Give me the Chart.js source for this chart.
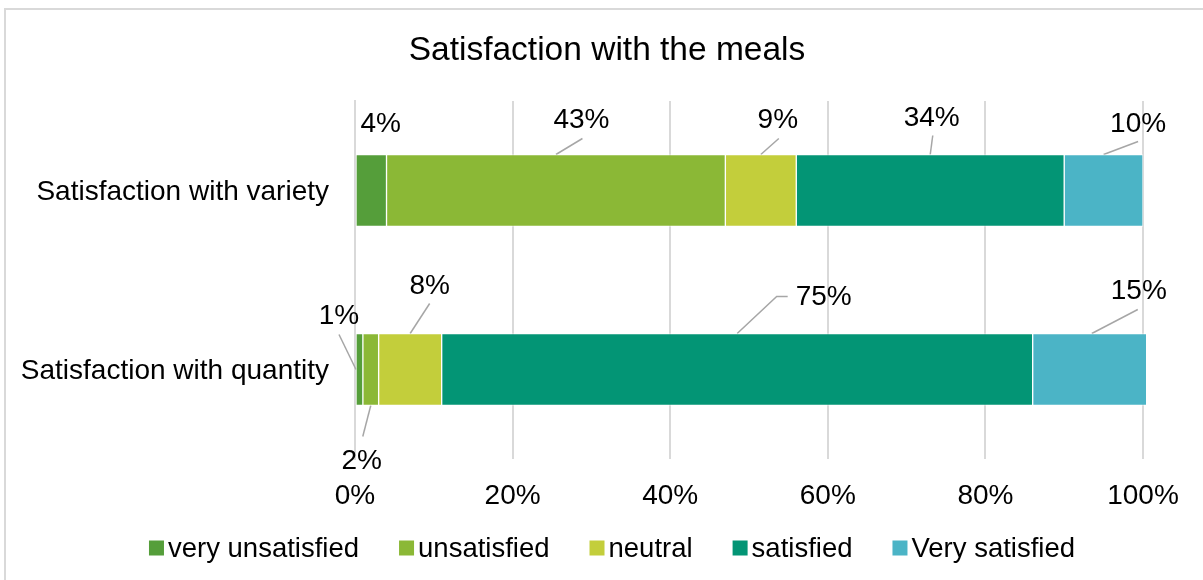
<!DOCTYPE html>
<html>
<head>
<meta charset="utf-8">
<title>Satisfaction with the meals</title>
<script src="https://cdn.jsdelivr.net/npm/chart.js@4.4.1/dist/chart.umd.min.js"></script>
<style>
  html, body { margin: 0; padding: 0; background: #fff; }
  #wrap { width: 1203px; height: 580px; position: relative; }
</style>
</head>
<body>
<div id="wrap"><canvas id="meals" width="1203" height="580"></canvas></div>
<script>
// survey answers, percent of respondents
var categories = ['Satisfaction with variety', 'Satisfaction with quantity'];
var seriesNames = ['very unsatisfied', 'unsatisfied', 'neutral', 'satisfied', 'Very satisfied'];
var veryUnsatisfied = [4, 1];
var unsatisfied = [43, 2];
var neutral = [9, 8];
var satisfied = [34, 75];
var verySatisfied = [10, 15];
var xTicks = [0, 20, 40, 60, 80, 100];

var seriesColors = ['#559e3a', '#8bb836', '#c3ce3b', '#039575', '#4bb4c6'];
var chartTitle = 'Satisfaction with the meals';
var FONT = '"Liberation Sans", Arial, sans-serif';

// where each data label sits relative to its bar segment
// anchor: top / bottom edge midpoint or start of the segment
var labelSpots = [
	[
		{ anchor: 'top', text: [9.5, -31.5], line: null },
		{ anchor: 'top', text: [25.5, -36], line: [[26.5, -16]] },
		{ anchor: 'top', text: [17, -35.5], line: [[18, -16]] },
		{ anchor: 'top', text: [1.5, -38], line: [[2.5, -19]] },
		{ anchor: 'top', text: [34.5, -32], line: [[34.5, -13]] }
	],
	[
		{ anchor: 'start', text: [-17, -55], line: [[-17, -35]] },
		{ anchor: 'bottom', text: [-9, 54], line: [[-8, 31]] },
		{ anchor: 'top', text: [19.5, -48.5], line: [[19.5, -30]] },
		{ anchor: 'top', text: [86.5, -37.5], line: [[50.5, -37], [39.5, -37]] },
		{ anchor: 'top', text: [47, -44], line: [[46, -24]] }
	]
];

function anchorPoint(bar, kind) {
	var left = Math.min(bar.x, bar.base), right = Math.max(bar.x, bar.base);
	var mid = (left + right) / 2;
	if (kind === 'top') return [mid, bar.y - bar.height / 2];
	if (kind === 'bottom') return [mid, bar.y + bar.height / 2];
	return [left, bar.y];
}

var leaderLabels = {
	id: 'leaderLabels',
	beforeDatasetsDraw: function (chart) {
		var ctx = chart.ctx;
		ctx.save();
		ctx.strokeStyle = '#a6a6a6';
		ctx.lineWidth = 1.5;
		chart.data.datasets.forEach(function (ds, d) {
			var meta = chart.getDatasetMeta(d);
			meta.data.forEach(function (bar, i) {
				var spot = labelSpots[i][d];
				if (!spot.line) return;
				var a = anchorPoint(bar, spot.anchor);
				ctx.beginPath();
				spot.line.forEach(function (p, k) {
					if (k === 0) ctx.moveTo(a[0] + p[0], a[1] + p[1]);
					else ctx.lineTo(a[0] + p[0], a[1] + p[1]);
				});
				ctx.lineTo(a[0], a[1]);
				ctx.stroke();
			});
		});
		ctx.restore();
	},
	afterDatasetsDraw: function (chart) {
		var ctx = chart.ctx;
		ctx.save();
		ctx.fillStyle = '#000';
		ctx.font = '28px ' + FONT;
		ctx.textAlign = 'center';
		ctx.textBaseline = 'middle';
		chart.data.datasets.forEach(function (ds, d) {
			var meta = chart.getDatasetMeta(d);
			meta.data.forEach(function (bar, i) {
				var spot = labelSpots[i][d];
				var a = anchorPoint(bar, spot.anchor);
				ctx.fillText(ds.data[i] + '%', a[0] + spot.text[0], a[1] + spot.text[1] + 1.5);
			});
		});
		ctx.restore();
	}
};

// frame, title and the legend row underneath
var decorations = {
	id: 'decorations',
	beforeDraw: function (chart) {
		var ctx = chart.ctx;
		ctx.save();
		ctx.fillStyle = '#fff';
		ctx.fillRect(0, 0, chart.width, chart.height);
		ctx.strokeStyle = '#d9d9d9';
		ctx.lineWidth = 2;
		ctx.beginPath();
		ctx.moveTo(5, chart.height);
		ctx.lineTo(5, 9);
		ctx.lineTo(chart.width, 9);
		ctx.stroke();
		ctx.restore();
	},
	afterDraw: function (chart) {
		var ctx = chart.ctx;
		ctx.save();
		ctx.fillStyle = '#000';
		ctx.textBaseline = 'middle';
		ctx.textAlign = 'center';
		ctx.font = '33.5px ' + FONT;
		ctx.fillText(chartTitle, 607, 51);

		ctx.font = '27.5px ' + FONT;
		ctx.textAlign = 'left';
		var box = 15, gap = 4, spacing = 40;
		var widths = seriesNames.map(function (n) { return ctx.measureText(n).width; });
		var total = 0;
		widths.forEach(function (w, k) { total += box + gap + w + (k ? spacing : 0); });
		var x = 612 - total / 2, y = 548;
		seriesNames.forEach(function (n, k) {
			ctx.fillStyle = seriesColors[k];
			ctx.fillRect(x, y - box / 2, box, box);
			ctx.fillStyle = '#000';
			ctx.fillText(n, x + box + gap, y + 1);
			x += box + gap + widths[k] + spacing;
		});
		ctx.restore();
	}
};

var values = [veryUnsatisfied, unsatisfied, neutral, satisfied, verySatisfied];

new Chart(document.getElementById('meals'), {
	type: 'bar',
	data: {
		labels: categories,
		datasets: seriesNames.map(function (name, k) {
			return {
				label: name,
				data: values[k],
				backgroundColor: seriesColors[k],
				borderColor: 'rgba(255,255,255,0.55)',
				borderWidth: 1,
				borderSkipped: false,
				barThickness: 72,
				clip: { left: 2, top: 2, right: 3, bottom: 2 }
			};
		})
	},
	options: {
		indexAxis: 'y',
		responsive: false,
		animation: false,
		layout: { padding: { top: 101, right: 60, bottom: 51, left: 0 } },
		plugins: {
			legend: { display: false },
			title: { display: false },
			tooltip: { enabled: false }
		},
		scales: {
			x: {
				stacked: true,
				min: 0,
				max: 100,
				afterBuildTicks: function (axis) {
					axis.ticks = xTicks.map(function (v) { return { value: v }; });
				},
				grid: { color: '#d9d9d9', lineWidth: 2, drawTicks: false },
				border: { display: false },
				ticks: {
					padding: 20,
					color: '#000',
					font: { family: FONT, size: 28 },
					callback: function (v) { return v + '%'; }
				},
				afterFit: function (axis) { axis.height = 70; }
			},
			y: {
				stacked: true,
				grid: { display: false, drawTicks: false },
				border: { display: true, color: '#d9d9d9', width: 2 },
				ticks: {
					padding: 26,
					labelOffset: 2,
					color: '#000',
					font: { family: FONT, size: 28 }
				},
				afterFit: function (axis) { axis.width = 355; }
			}
		}
	},
	plugins: [decorations, leaderLabels]
});
</script>
</body>
</html>
